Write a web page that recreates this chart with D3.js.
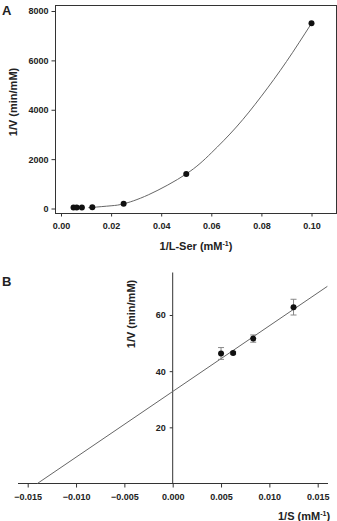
<!DOCTYPE html>
<html>
<head>
<meta charset="utf-8">
<script src="https://cdn.jsdelivr.net/npm/d3@7"></script>
<style>
  body { margin: 0; background: #fff; }
  text { font-family: "Liberation Sans", Arial, sans-serif; font-weight: bold; fill: #222; }
</style>
</head>
<body>
<div id="chart"></div>
<script>
// Panel A: 1/V vs 1/L-Ser
const aX = [0.005, 0.00625, 0.00833, 0.0125, 0.025, 0.05, 0.1];
const aY = [40, 40, 45, 55, 190, 1400, 7500];
// fitted curve
const aCurveX = [0.011, 0.0125, 0.02, 0.025, 0.035, 0.05, 0.06, 0.07, 0.08, 0.09, 0.1];
const aCurveY = [40, 45, 110, 190, 560, 1400, 2250, 3300, 4550, 5950, 7500];
const aXTicks = [0, 0.02, 0.04, 0.06, 0.08, 0.10];
const aYTicks = [0, 2000, 4000, 6000, 8000];

// Panel B: 1/V vs 1/S (Lineweaver-Burk)
const bX = [0.005, 0.00625, 0.00833, 0.0125];
const bY = [46.3, 46.5, 51.6, 62.8];
const bErr = [2.1, 0.5, 1.3, 2.8];
const bLineX = [-0.0140, 0.0160];
const bLineY = [0, 70.2];
const bXTicks = [-0.015, -0.010, -0.005, 0, 0.005, 0.010, 0.015];
const bYTicks = [20, 40, 60];

const W = 337, H = 521;
const svg = d3.select("#chart").append("svg")
    .attr("width", W)
    .attr("height", H);

// ---------- Panel A ----------
const xA = d3.scaleLinear().domain([0, 0.1]).range([61, 311.5]);
const yA = d3.scaleLinear().domain([0, 8000]).range([208.5, 11]);

const gA = svg.append("g");

// frame
gA.append("rect")
    .attr("x", 55.5).attr("y", 5.5)
    .attr("width", 281).attr("height", 208)
    .attr("fill", "none").attr("stroke", "#333").attr("stroke-width", 1);

gA.append("g")
    .attr("transform", "translate(55.5,0)")
    .call(d3.axisLeft(yA).tickValues(aYTicks).tickSize(4).tickPadding(3).tickFormat(d3.format("d")))
    .call(g => g.select(".domain").remove());

gA.append("g")
    .attr("transform", "translate(0,213.5)")
    .call(d3.axisBottom(xA).tickValues(aXTicks).tickSize(3).tickPadding(6).tickFormat(d3.format(".2f")))
    .call(g => g.select(".domain").remove());

gA.selectAll(".tick line").attr("stroke", "#333");
gA.selectAll(".tick text").style("font-size", "9px");

const curveA = d3.line()
    .x((d, i) => xA(aCurveX[i]))
    .y(d => yA(d))
    .curve(d3.curveNatural);

gA.append("path")
    .datum(aCurveY)
    .attr("d", curveA)
    .attr("fill", "none")
    .attr("stroke", "#666")
    .attr("stroke-width", 1);

gA.selectAll(".pt")
    .data(aY)
    .enter().append("circle")
    .attr("cx", (d, i) => xA(aX[i]))
    .attr("cy", d => yA(d))
    .attr("r", 3)
    .attr("fill", "#111");

gA.append("text")
    .attr("x", 2).attr("y", 15)
    .style("font-size", "13px")
    .text("A");

gA.append("text")
    .attr("transform", "translate(17,102) rotate(-90)")
    .style("text-anchor", "middle")
    .style("font-size", "11px")
    .text("1/V (min/mM)");

const xtA = gA.append("text")
    .attr("x", 196).attr("y", 250)
    .style("text-anchor", "middle")
    .style("font-size", "11px");
xtA.append("tspan").text("1/L-Ser (mM");
xtA.append("tspan").attr("dy", -4).style("font-size", "7px").text("-1");
xtA.append("tspan").attr("dy", 4).text(")");

// ---------- Panel B ----------
const xB = d3.scaleLinear().domain([0, 0.015]).range([172.7, 317.7]);
const yB = d3.scaleLinear().domain([0, 60]).range([483.5, 315]);

const gB = svg.append("g");

gB.append("line")
    .attr("x1", 18).attr("x2", 328)
    .attr("y1", 483.5).attr("y2", 483.5)
    .attr("stroke", "#333");
gB.append("line")
    .attr("x1", 172.7).attr("x2", 172.7)
    .attr("y1", 272.5).attr("y2", 483.5)
    .attr("stroke", "#333");

gB.append("g")
    .attr("transform", "translate(0,483.5)")
    .call(d3.axisBottom(xB).tickValues(bXTicks).tickSize(4).tickPadding(6).tickFormat(d3.format(".3f")))
    .call(g => g.select(".domain").remove());

gB.append("g")
    .attr("transform", "translate(172.7,0)")
    .call(d3.axisLeft(yB).tickValues(bYTicks).tickSize(3).tickPadding(4))
    .call(g => g.select(".domain").remove());

gB.selectAll(".tick line").attr("stroke", "#333");
gB.selectAll(".tick text").style("font-size", "9px");

// fitted line
gB.append("line")
    .attr("x1", xB(bLineX[0])).attr("y1", yB(bLineY[0]))
    .attr("x2", xB(bLineX[1])).attr("y2", yB(bLineY[1]))
    .attr("stroke", "#666").attr("stroke-width", 1);

// error bars
const eb = gB.selectAll(".eb")
    .data(bY)
    .enter().append("g")
    .attr("stroke", "#888").attr("stroke-width", 1);
eb.append("line")
    .attr("x1", (d, i) => xB(bX[i])).attr("x2", (d, i) => xB(bX[i]))
    .attr("y1", (d, i) => yB(d + bErr[i])).attr("y2", (d, i) => yB(d - bErr[i]));
eb.append("line")
    .attr("x1", (d, i) => xB(bX[i]) - 3).attr("x2", (d, i) => xB(bX[i]) + 3)
    .attr("y1", (d, i) => yB(d + bErr[i])).attr("y2", (d, i) => yB(d + bErr[i]));
eb.append("line")
    .attr("x1", (d, i) => xB(bX[i]) - 3).attr("x2", (d, i) => xB(bX[i]) + 3)
    .attr("y1", (d, i) => yB(d - bErr[i])).attr("y2", (d, i) => yB(d - bErr[i]));

gB.selectAll(".pt")
    .data(bY)
    .enter().append("circle")
    .attr("cx", (d, i) => xB(bX[i]))
    .attr("cy", d => yB(d))
    .attr("r", 3)
    .attr("fill", "#111");

gB.append("text")
    .attr("x", 2).attr("y", 286)
    .style("font-size", "13px")
    .text("B");

gB.append("text")
    .attr("transform", "translate(135,314) rotate(-90)")
    .style("text-anchor", "middle")
    .style("font-size", "11px")
    .text("1/V (min/mM)");

const xtB = gB.append("text")
    .attr("x", 278).attr("y", 520)
    .style("font-size", "11px");
xtB.append("tspan").text("1/S (mM");
xtB.append("tspan").attr("dy", -4).style("font-size", "7px").text("-1");
xtB.append("tspan").attr("dy", 4).text(")");
</script>
</body>
</html>
